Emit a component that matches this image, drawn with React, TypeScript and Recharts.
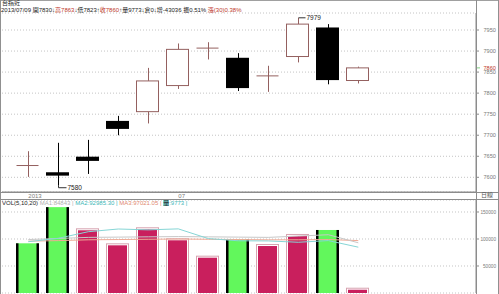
import React from 'react';
import { ComposedChart, Bar, Line, XAxis, YAxis, CartesianGrid, ReferenceLine } from 'recharts';

const dates = ['2013/06/24', '06/25', '06/26', '06/27', '06/28', '07/01', '07/02', '07/03', '07/04', '07/05', '07/08', '07/09'];
const opens = [7628, 7612, 7649, 7734, 7756, 7818, 7907, 7884, 7841, 7887, 7956, 7830];
const highs = [7662, 7682, 7689, 7746, 7860, 7918, 7921, 7895, 7865, 7979, 7964, 7863];
const lows = [7601, 7580, 7608, 7700, 7728, 7810, 7880, 7805, 7803, 7873, 7821, 7823];
const closes = [7628, 7604, 7639, 7715, 7829, 7904, 7907, 7812, 7841, 7964, 7831, 7860];
const prevClose = 7640;
const volumes = [92000, 159000, 119800, 92000, 121700, 101300, 69100, 99400, 90700, 109300, 116700, 9773];
const ma5 = [95000, 101300, 113500, 118500, 116900, 118760, 100780, 96700, 96440, 93960, 97040, 84843];
const ma10 = [99000, 101000, 103000, 103500, 104000, 104500, 104000, 103500, 103000, 105430, 107900, 92985];
const ma20 = [96000, 97000, 98500, 99000, 99500, 100000, 99500, 99000, 98500, 98500, 99000, 97021];
const priceTicks = [7600, 7650, 7700, 7750, 7800, 7850, 7900, 7950];
const volTicks = [50000, 100000, 150000];
const dateTickIdx = [0, 5];
const dateTickLabels = ['2013', '07'];

const maxHigh = Math.max(...highs);
const minLow = Math.min(...lows);

const data = dates.map((d, i) => ({
  i,
  date: d,
  open: opens[i],
  high: highs[i],
  low: lows[i],
  close: closes[i],
  vol: volumes[i],
  up: closes[i] >= (i === 0 ? prevClose : closes[i - 1]),
  ma5: ma5[i],
  ma10: ma10[i],
  ma20: ma20[i],
}));

const W = 499;
const H = 294;
const X_DOMAIN: [number, number] = [-0.877, 14.923];
const FONT = '"Liberation Sans", "Noto Sans CJK TC", sans-serif';
const UP = '#94605f';
const AXIS = '#8c8c8c';

const Candle = (props: any) => {
  const { x, y, width, height, payload } = props;
  const top = Math.min(y, y + height);
  const bot = Math.max(y, y + height);
  const { open, close, high, low } = payload;
  const pix = (v: number) => (high === low ? top : top + ((high - v) / (high - low)) * (bot - top));
  const cx = Math.round(x + width / 2) + 0.5;
  const l = Math.round(x) + 0.5;
  const r = Math.round(x + width) - 0.5;
  const yo = pix(open);
  const yc = pix(close);
  const bt = Math.min(yo, yc);
  const bb = Math.max(yo, yc);
  const parts: any[] = [];
  if (close > open) {
    parts.push(<line key="w1" x1={cx} x2={cx} y1={top} y2={bt} stroke={UP} />);
    parts.push(<line key="w2" x1={cx} x2={cx} y1={bb} y2={bot} stroke={UP} />);
    parts.push(<rect key="b" x={l} y={bt} width={r - l} height={bb - bt} fill="#fff" stroke={UP} />);
  } else if (close < open) {
    parts.push(<line key="w" x1={cx} x2={cx} y1={top} y2={bot} stroke="#000" />);
    parts.push(<rect key="b" x={l - 0.5} y={bt} width={r - l + 1} height={Math.max(bb - bt, 3)} fill="#000" />);
  } else {
    parts.push(<line key="w" x1={cx} x2={cx} y1={top} y2={bot} stroke={UP} />);
    parts.push(<line key="h" x1={l} x2={r} y1={yo} y2={yo} stroke={UP} />);
  }
  if (high === maxHigh) {
    parts.push(<line key="mh" x1={cx} x2={cx + 7} y1={top} y2={top} stroke="#333" />);
    parts.push(
      <text key="mht" x={cx + 8} y={top + 2} fontSize={6.5} fontFamily={FONT} fill="#222">
        {high}
      </text>
    );
  }
  if (low === minLow) {
    parts.push(<polyline key="ml" points={`${cx},${bot} ${cx},${bot + 2} ${cx + 8},${bot + 2}`} fill="none" stroke="#333" />);
    parts.push(
      <text key="mlt" x={cx + 9} y={bot + 4.5} fontSize={6.5} fontFamily={FONT} fill="#222">
        {low}
      </text>
    );
  }
  return <g>{parts}</g>;
};

const VolBar = (props: any) => {
  const { x, y, width, height, payload } = props;
  const top = Math.min(y, y + height);
  const h = Math.abs(height);
  const l = Math.round(x);
  const w = Math.round(width);
  if (!payload.up) {
    return (
      <g>
        <rect x={l} y={top} width={w} height={h} fill="#62f75c" />
        <rect x={l} y={top} width={2.5} height={h} fill="#000" />
        <rect x={l + w - 2.5} y={top} width={2.5} height={h} fill="#000" />
      </g>
    );
  }
  return (
    <g>
      <rect x={l + 0.5} y={top + 0.5} width={w - 1} height={h} fill="#fff" stroke="#d7a3b0" />
      <rect x={l + 2} y={top + 2} width={w - 4} height={Math.max(h - 2, 0)} fill="#c91f5d" />
    </g>
  );
};

const AxisTick = (props: any) => {
  const { y, payload } = props;
  const s = String(payload.value);
  return (
    <text
      x={496}
      y={y + 2}
      textAnchor="end"
      fontSize={6}
      fontFamily={FONT}
      fill="#7a7a7a"
      textLength={s.length * 2.6}
      lengthAdjust="spacingAndGlyphs"
    >
      {s}
    </text>
  );
};

const PriceTick = (props: any) => {
  const { y, payload } = props;
  return (
    <text x={496} y={y + 2} textAnchor="end" fontSize={6} fontFamily={FONT} fill="#7a7a7a" textLength={12.5} lengthAdjust="spacingAndGlyphs">
      {payload.value}
    </text>
  );
};

const DateTick = (props: any) => {
  const { x, payload } = props;
  const k = dateTickIdx.indexOf(payload.value);
  return (
    <g>
      <text x={x} y={198} fontSize={6} fontFamily={FONT} fill="#7a7a7a">
        {dateTickLabels[k]}
      </text>
    </g>
  );
};

const LastPriceLabel = (props: any) => {
  const { viewBox } = props;
  const yy = viewBox.y;
  const xx = viewBox.x + viewBox.width;
  return (
    <g>
      <line x1={xx} x2={xx + 4} y1={yy} y2={yy} stroke="#7fd07f" />
      <rect x={xx + 6} y={yy - 3} width={16} height={5} fill="#fff" />
      <text x={496} y={yy + 2} textAnchor="end" fontSize={6} fontFamily={FONT} fill="#c0392b" textLength={12.5} lengthAdjust="spacingAndGlyphs">
        {closes[closes.length - 1]}
      </text>
    </g>
  );
};

const hLine = (top: number, left: number, width: number, color = '#a0a0a0') => (
  <div style={{ position: 'absolute', left, top, width, height: 1, background: color }} />
);
const vLine = (left: number, top: number, height: number, color = '#a0a0a0') => (
  <div style={{ position: 'absolute', left, top, width: 1, height, background: color }} />
);

export default function App() {
  const txt: React.CSSProperties = { fontFamily: FONT, fontSize: 6, lineHeight: '7px', whiteSpace: 'pre', position: 'absolute', color: '#222' };
  return (
    <div style={{ position: 'absolute', left: 0, top: 0, width: W, height: H, background: '#fff', overflow: 'hidden' }}>
      <div style={{ position: 'absolute', left: 0, top: 0 }}>
        <ComposedChart width={W} height={H} data={data} margin={{ top: 13, right: 0, bottom: 94, left: 2 }}>
          <CartesianGrid horizontal vertical={false} stroke="#c4c4c4" strokeDasharray="1 2" />
          <XAxis
            type="number"
            dataKey="i"
            domain={X_DOMAIN}
            ticks={dateTickIdx}
            allowDataOverflow
            height={8}
            tickSize={0}
            tickMargin={0}
            stroke={AXIS}
            tickLine={false}
            tick={<DateTick />}
            interval={0}
          />
          <YAxis
            orientation="right"
            width={23}
            domain={[7565.1, 7990.4]}
            ticks={priceTicks}
            allowDataOverflow
            stroke={AXIS}
            tickSize={3}
            tick={<PriceTick />}
            interval={0}
          />
          <ReferenceLine y={closes[closes.length - 1]} stroke="none" label={<LastPriceLabel />} />
          <Bar dataKey={(d: any) => [d.low, d.high]} barSize={23} shape={<Candle />} isAnimationActive={false} />
        </ComposedChart>
      </div>
      <div style={{ position: 'absolute', left: 0, top: 0 }}>
        <ComposedChart width={W} height={H} data={data} margin={{ top: 200, right: 0, bottom: 1, left: 2 }}>
          <CartesianGrid horizontal vertical={false} stroke="#c4c4c4" strokeDasharray="1 2" />
          <XAxis type="number" dataKey="i" domain={X_DOMAIN} allowDataOverflow hide />
          <YAxis
            orientation="right"
            width={23}
            domain={[0, 172222]}
            ticks={volTicks}
            allowDataOverflow
            stroke={AXIS}
            tickSize={3}
            tick={<AxisTick />}
            interval={0}
          />
          <Line dataKey="ma20" stroke="#f0aa96" dot={false} strokeWidth={1} isAnimationActive={false} />
          <Line dataKey="ma10" stroke="#c8c8c8" dot={false} strokeWidth={1} isAnimationActive={false} />
          <Line dataKey="ma5" stroke="#86d6d6" dot={false} strokeWidth={1} isAnimationActive={false} />
          <Bar dataKey="vol" barSize={23} shape={<VolBar />} isAnimationActive={false} />
        </ComposedChart>
      </div>
      {hLine(0, 0, W)}
      {vLine(0, 0, H, '#909090')}
      {vLine(W - 1, 0, H, '#909090')}
      {vLine(476, 0, H, AXIS)}
      {hLine(192, 0, W, AXIS)}
      {hLine(199, 0, W, AXIS)}
      <div style={{ ...txt, left: 481, top: 192, color: '#555' }}>日線</div>
      <div style={{ ...txt, left: 2, top: 0 }}>台指近</div>
      <div style={{ ...txt, left: 1, top: 7 }}>
        <span>2013/07/09 開7830↓</span>
        <span style={{ color: '#c0392b' }}>高7863</span>
        <span>↓低7823↑</span>
        <span style={{ color: '#c0392b' }}>收7860</span>
        <span>↑量9773↓倉0↓增-43036 振0.51% </span>
        <span style={{ color: '#c0392b' }}>漲(30)0.38%</span>
      </div>
      <div style={{ ...txt, left: 2, top: 200 }}>
        <span>VOL(5,10,20) </span>
        <span style={{ color: '#b0b0b0' }}>MA1:84843 | </span>
        <span style={{ color: '#3cb6b6' }}>MA2:92985.30 | </span>
        <span style={{ color: '#e08870' }}>MA3:97021.05 | </span>
        <span style={{ background: '#7fd6d6' }}>量</span>
        <span style={{ color: '#3cb6b6' }}>:9773 |</span>
      </div>
    </div>
  );
}
